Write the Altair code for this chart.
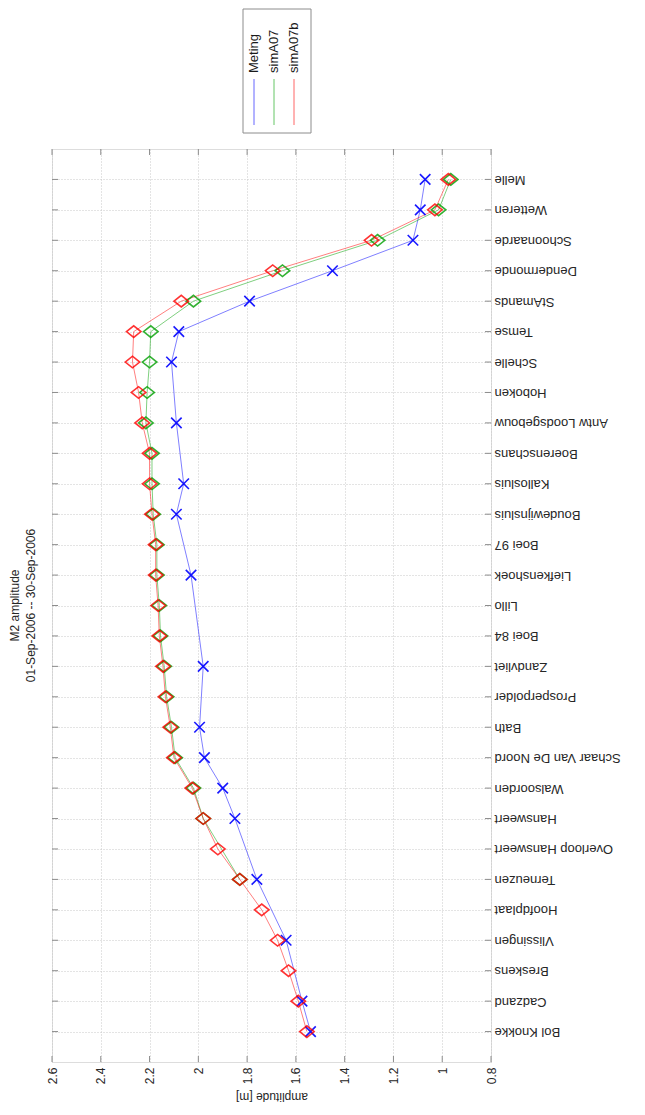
import altair as alt
import pandas as pd

stations = [
    "Melle", "Wetteren", "Schoonaarde", "Dendermonde", "StAmands", "Temse",
    "Schelle", "Hoboken", "Antw Loodsgebouw", "Boerenschans", "Kallosluis",
    "Boudewijnsluis", "Boei 97", "Liefkenshoek", "Lillo", "Boei 84",
    "Zandvliet", "Prosperpolder", "Bath", "Schaar Van De Noord", "Walsoorden",
    "Hansweert", "Overloop Hansweert", "Terneuzen", "Hoofdplaat", "Vlissingen",
    "Breskens", "Cadzand", "Bol Knokke",
]

meting = [
    1.07, 1.09, 1.12, 1.45, 1.79, 2.08,
    2.11, None, 2.09, None, 2.06,
    2.09, None, 2.03, None, None,
    1.98, None, 1.995, 1.975, 1.90,
    1.85, None, 1.76, None, 1.64,
    None, 1.575, 1.54,
]

sim_a07 = [
    0.965, 1.015, 1.265, 1.655, 2.02, 2.195,
    2.20, 2.21, 2.215, 2.19, 2.19,
    2.185, 2.17, 2.17, 2.16, 2.155,
    2.14, 2.13, 2.11, 2.095, 2.02,
    1.98, None, 1.83, None, None,
    None, None, None,
]

sim_a07b = [
    0.975, 1.03, 1.29, 1.695, 2.07, 2.265,
    2.27, 2.245, 2.23, 2.20, 2.20,
    2.19, 2.175, 2.175, 2.165, 2.16,
    2.145, 2.135, 2.115, 2.10, 2.025,
    1.98, 1.92, 1.83, 1.74, 1.675,
    1.63, 1.59, 1.555,
]

series_names = ["Meting", "simA07", "simA07b"]
series_colors = ["#0000ff", "#00a000", "#ff0000"]
amp_ticks = [0.8, 1.0, 1.2, 1.4, 1.6, 1.8, 2.0, 2.2, 2.4, 2.6]
title_lines = ["M2 amplitude", "01-Sep-2006 -- 30-Sep-2006"]

rows = []
for name, vals in zip(series_names, [meting, sim_a07, sim_a07b]):
    for i, (st, v) in enumerate(zip(stations, vals)):
        if v is not None:
            rows.append({"station": st, "idx": i, "series": name, "value": v})
df = pd.DataFrame(rows)

W, H = 439, 913
FONT = "Liberation Sans"
FRAME = "#8c8c8c"

xscale = alt.Scale(domain=[0.8, 2.6], reverse=True, nice=False, zero=False)
yscale = alt.Scale(type="point", padding=1, domain=stations)
cscale = alt.Scale(domain=series_names, range=series_colors)

xaxis = alt.Axis(
    values=amp_ticks, format="~g", labelAngle=270, labelFontSize=12,
    labelFont=FONT, labelColor="#262626", labelPadding=5,
    title="amplitude [m]", titleAngle=180, titleBaseline="bottom",
    titleFont=FONT, titleFontSize=12,
    titleFontWeight="normal", titleColor="#262626", titlePadding=6,
    ticks=False, domain=False, grid=True, gridDash=[1, 2], gridColor="#c8c8c8",
)
yaxis = alt.Axis(
    orient="right", labelAngle=180, labelAlign="right", labelBaseline="middle",
    labelFontSize=13, labelFont=FONT, labelColor="#262626", labelPadding=3,
    title=None, ticks=False, domain=False, grid=True, gridDash=[1, 2],
    gridColor="#c8c8c8",
)

X = alt.X("value:Q", scale=xscale, axis=xaxis)
Y = alt.Y("station:N", scale=yscale, axis=yaxis)
C = alt.Color("series:N", scale=cscale, legend=None)

base = alt.Chart(df)

lines = base.mark_line(strokeWidth=1, opacity=0.5).encode(
    x=X, y=Y, color=C, order=alt.Order("idx:Q")
)

x_path = "M-1,-1L1,1M-1,1L1,-1"
diamond_path = "M-1,0L0,-0.8L1,0L0,0.8Z"

pts_meting = base.transform_filter(alt.datum.series == "Meting").mark_point(
    shape=x_path, size=110, strokeWidth=1.6, filled=False, opacity=0.9
).encode(x=X, y=Y, color=C)

pts_sim = base.transform_filter(alt.datum.series != "Meting").mark_point(
    shape=diamond_path, size=210, strokeWidth=1.6, filled=False, opacity=0.8
).encode(x=X, y=Y, color=C)

amp_df = pd.DataFrame({"value": amp_ticks})
st_df = pd.DataFrame({"station": stations})

tick_top = alt.Chart(amp_df).mark_rule(color=FRAME).encode(
    x=X, y=alt.value(0), y2=alt.value(6))
tick_bot = alt.Chart(amp_df).mark_rule(color=FRAME).encode(
    x=X, y=alt.value(H), y2=alt.value(H - 6))
tick_left = alt.Chart(st_df).mark_rule(color=FRAME).encode(
    y=Y, x=alt.value(0), x2=alt.value(6))
tick_right = alt.Chart(st_df).mark_rule(color=FRAME).encode(
    y=Y, x=alt.value(W), x2=alt.value(W - 6))

one = alt.Data(values=[{"k": 1}])
legend_layers = [
    alt.Chart(one).mark_rect(fill="white", stroke=FRAME, strokeWidth=1).encode(
        x=alt.value(191), x2=alt.value(259), y=alt.value(-140), y2=alt.value(-16)
    )
]
for i, (name, col) in enumerate(zip(series_names, series_colors)):
    lx = 202 + 20 * i
    legend_layers.append(
        alt.Chart(one).mark_rule(color=col, strokeWidth=1, opacity=0.6).encode(
            x=alt.value(lx), y=alt.value(-70), y2=alt.value(-24))
    )
    legend_layers.append(
        alt.Chart(one).mark_text(
            text=name, angle=270, align="left", baseline="middle",
            font=FONT, fontSize=13, color="#1a1a1a"
        ).encode(x=alt.value(lx), y=alt.value(-76))
    )

chart = alt.layer(
    lines, pts_meting, pts_sim, tick_top, tick_bot, tick_left, tick_right,
    *legend_layers
).properties(
    width=W, height=H, padding=0,
    title=alt.TitleParams(
        text=title_lines, orient="left", angle=270, anchor="middle",
        font=FONT, fontSize=12, fontWeight="normal", color="#262626",
        offset=8, lineHeight=16,
    ),
).configure_view(stroke=FRAME, strokeWidth=1).configure(background="white")

chart.save("out.html", embed_options={"renderer": "svg", "actions": False})
